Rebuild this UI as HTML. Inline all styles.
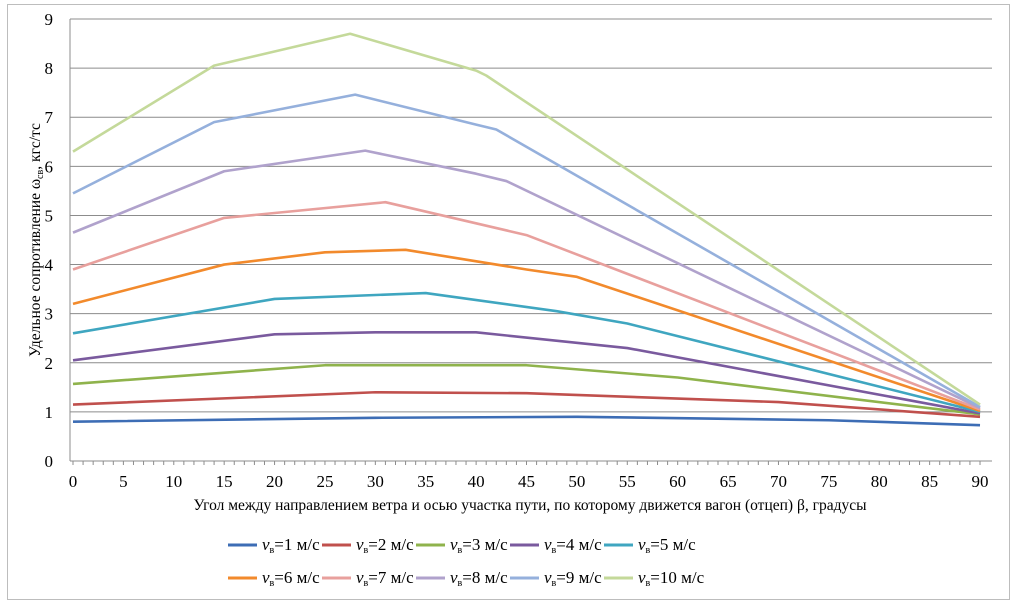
<!DOCTYPE html>
<html><head><meta charset="utf-8"><style>
body{margin:0;background:#fff;}
svg{display:block;font-family:"Liberation Serif",serif;}
</style></head><body>
<svg id="s" width="1014" height="606" xmlns="http://www.w3.org/2000/svg">
<rect x="7.5" y="4.5" width="1002" height="595" fill="#fff" stroke="#bdbdbd"/>
<g id="grid"></g>
<g id="ser"></g>
<text x="530" y="510" font-size="15.5" text-anchor="middle">Угол между направлением ветра и осью участка пути, по которому движется вагон (отцеп) β, градусы</text>
<text transform="translate(40,240) rotate(-90)" font-size="15.5" text-anchor="middle">Удельное сопротивление ω<tspan font-size="10" dy="3">св</tspan><tspan dy="-3">, кгс/тс</tspan></text>
<g id="leg" font-size="17"></g>
</svg>
<script>
var X=function(d){return 73+d*10.078},Y=function(v){return 461-v*49.11};
var g='',i;
for(i=1;i<=9;i++)g+='<line x1="70" x2="992" y1="'+Y(i)+'" y2="'+Y(i)+'" stroke="#8c8c8c" stroke-width="1"/>';
g+='<line x1="70" x2="70" y1="'+Y(9)+'" y2="461" stroke="#8c8c8c"/>';
g+='<line x1="70" x2="992" y1="461" y2="461" stroke="#8c8c8c"/>';
for(i=0;i<=90;i++)g+='<line x1="'+X(i)+'" x2="'+X(i)+'" y1="461" y2="465" stroke="#8c8c8c"/>';
for(i=0;i<=9;i++)g+='<text x="53" y="'+(Y(i)+6)+'" font-size="17" text-anchor="end">'+i+'</text>';
for(i=0;i<=90;i+=5)g+='<text x="'+X(i)+'" y="487" font-size="17" text-anchor="middle">'+i+'</text>';
document.getElementById('grid').innerHTML=g;
var C=['#3d6db5','#c0504d','#8fb34c','#7a5a9e','#3fa6c0','#f28a2c','#e8a09d','#b0a2cc','#95b0dc','#c4d99a'];
var D=[
[[0,0.8],[30,0.88],[50,0.9],[75,0.83],[90,0.73]],
[[0,1.15],[30,1.4],[45,1.38],[70,1.2],[90,0.9]],
[[0,1.57],[25,1.95],[45,1.95],[60,1.7],[90,0.95]],
[[0,2.05],[20,2.58],[30,2.62],[40,2.62],[55,2.3],[90,0.97]],
[[0,2.6],[20,3.3],[35,3.42],[48,3.05],[55,2.8],[90,1.0]],
[[0,3.2],[15,4.0],[25,4.25],[33,4.3],[45,3.9],[50,3.75],[90,1.02]],
[[0,3.9],[15,4.95],[31,5.27],[45,4.6],[90,1.05]],
[[0,4.65],[15,5.9],[29,6.32],[40,5.85],[43,5.7],[90,1.08]],
[[0,5.45],[14,6.9],[28,7.46],[40,6.85],[42,6.75],[90,1.1]],
[[0,6.3],[14,8.05],[27.5,8.7],[40,7.95],[41,7.85],[90,1.15]]];
var s='';
for(i=0;i<10;i++){s+='<polyline fill="none" stroke="'+C[i]+'" stroke-width="2.6" stroke-linejoin="round" points="'+D[i].map(function(p){return X(p[0])+','+Y(p[1])}).join(' ')+'"/>';}
document.getElementById('ser').innerHTML=s;
var l='';
for(i=0;i<10;i++){var r=Math.floor(i/5),c=i%5,x=228+c*94,y=r?578:545;
l+='<line x1="'+x+'" x2="'+(x+29)+'" y1="'+y+'" y2="'+y+'" stroke="'+C[i]+'" stroke-width="3"/>';
l+='<text x="'+(x+34)+'" y="'+(y+5)+'"><tspan font-style="italic">v</tspan><tspan font-size="10" dy="3">в</tspan><tspan dy="-3">='+(i+1)+' м/с</tspan></text>';}
document.getElementById('leg').innerHTML=l;
</script>
</body></html>
